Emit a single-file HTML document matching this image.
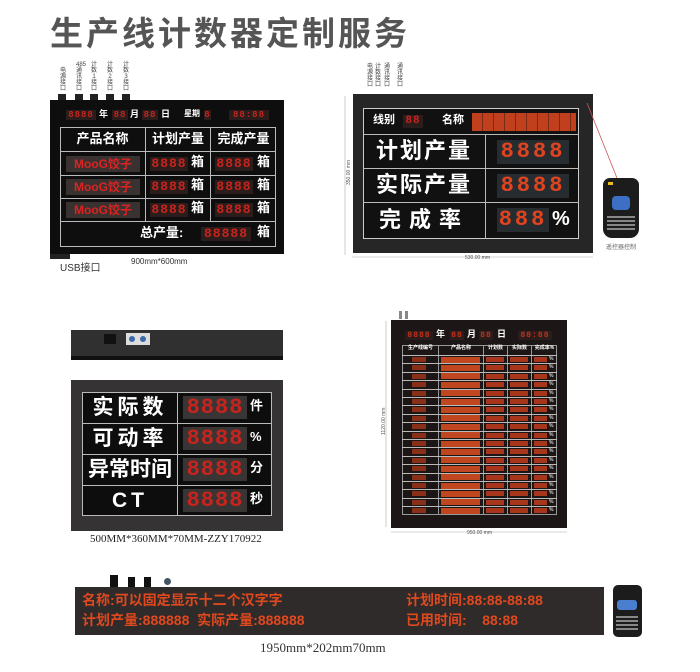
<!DOCTYPE html>
<html><head><meta charset="utf-8"><style>
body{margin:0;width:700px;height:672px;background:#fff;position:relative;overflow:hidden;font-family:"Liberation Sans","Noto Sans CJK SC",sans-serif}
.a{position:absolute;box-sizing:border-box}
.d{color:#c8231c;font-family:"Liberation Mono",monospace;font-weight:bold;background:#2a1d1b;letter-spacing:1px;text-align:center;white-space:nowrap;overflow:hidden}
.w{color:#fff;font-weight:bold;text-align:center;white-space:nowrap;line-height:1.15}
.ln{background:#bbb}
.t{font-size:6px;color:#444;line-height:6px;width:6px;text-align:center}
</style></head><body>
<div class="a" style="left:50px;top:7px;font-size:33px;font-weight:bold;color:#555;letter-spacing:3px">生产线计数器定制服务</div>

<!-- Panel 1 -->
<div class="a t" style="left:60px;top:68px">电源接口</div>
<div class="a t" style="left:76px;top:62px">485通讯接口</div>
<div class="a t" style="left:91px;top:62px">计数1接口</div>
<div class="a t" style="left:107px;top:62px">计数2接口</div>
<div class="a t" style="left:123px;top:62px">计数3接口</div>
<div class="a" style="left:58px;top:94px;width:8px;height:7px;background:#222"></div>
<div class="a" style="left:75px;top:94px;width:8px;height:7px;background:#222"></div>
<div class="a" style="left:90px;top:94px;width:8px;height:7px;background:#222"></div>
<div class="a" style="left:106px;top:94px;width:8px;height:7px;background:#222"></div>
<div class="a" style="left:122px;top:94px;width:8px;height:7px;background:#222"></div>
<div class="a" style="left:50px;top:100px;width:234px;height:154px;background:#0e0e0e"></div>
<div class="a" style="left:50px;top:254px;width:20px;height:5px;background:#222"></div>
<div class="a d" style="left:66px;top:110px;width:30px;height:10px;font-size:9px;line-height:10px">8888</div>
<div class="a w" style="left:99px;top:109px;font-size:9px">年</div>
<div class="a d" style="left:112px;top:110px;width:16px;height:10px;font-size:9px;line-height:10px">88</div>
<div class="a w" style="left:130px;top:109px;font-size:9px">月</div>
<div class="a d" style="left:142px;top:110px;width:16px;height:10px;font-size:9px;line-height:10px">88</div>
<div class="a w" style="left:161px;top:109px;font-size:9px">日</div>
<div class="a w" style="left:184px;top:109px;font-size:8px">星期</div>
<div class="a d" style="left:204px;top:110px;width:7px;height:10px;font-size:9px;line-height:10px">8</div>
<div class="a d" style="left:229px;top:110px;width:40px;height:10px;font-size:9px;line-height:10px">88:88</div>
<div class="a" style="left:60px;top:127px;width:216px;height:120px;border:1px solid #bbb"></div>
<div class="a ln" style="left:60px;top:151px;width:216px;height:1px"></div>
<div class="a ln" style="left:60px;top:175px;width:216px;height:1px"></div>
<div class="a ln" style="left:60px;top:198px;width:216px;height:1px"></div>
<div class="a ln" style="left:60px;top:221px;width:216px;height:1px"></div>
<div class="a ln" style="left:145px;top:127px;width:1px;height:94px"></div>
<div class="a ln" style="left:210px;top:127px;width:1px;height:94px"></div>
<div class="a w" style="left:60px;top:132px;width:85px;font-size:13px">产品名称</div>
<div class="a w" style="left:146px;top:132px;width:64px;font-size:13px">计划产量</div>
<div class="a w" style="left:211px;top:132px;width:65px;font-size:13px">完成产量</div>
<div id="p1"></div>
<div class="a w" style="left:140px;top:226px;font-size:13px">总产量:</div>
<div class="a d" style="left:201px;top:227px;width:50px;height:14px;font-size:13px;line-height:14px">88888</div>
<div class="a w" style="left:257px;top:225px;font-size:13px">箱</div>
<div class="a" style="left:60px;top:259px;font-size:10px;color:#333">USB接口</div>
<div class="a" style="left:131px;top:257px;font-size:8px;color:#333">900mm*600mm</div>

<!-- Panel 2 -->
<div class="a t" style="left:367px;top:64px">电源接口</div>
<div class="a t" style="left:375px;top:64px">计数接口</div>
<div class="a t" style="left:384px;top:64px">通讯接口</div>
<div class="a t" style="left:397px;top:64px">通讯接口</div>
<div class="a" style="left:353px;top:94px;width:240px;height:159px;background:#262626"></div>
<div class="a" style="left:363px;top:108px;width:216px;height:131px;background:#111;border:1px solid #ccc"></div>
<div class="a ln" style="left:363px;top:134px;width:216px;height:1px"></div>
<div class="a ln" style="left:363px;top:168px;width:216px;height:1px"></div>
<div class="a ln" style="left:363px;top:202px;width:216px;height:1px"></div>
<div class="a ln" style="left:485px;top:134px;width:1px;height:105px"></div>
<div class="a w" style="left:373px;top:114px;font-size:11px">线别</div>
<div class="a d" style="left:403px;top:115px;width:20px;height:13px;font-size:11px;line-height:13px">88</div>
<div class="a w" style="left:442px;top:114px;font-size:11px">名称</div>
<div class="a" style="left:472px;top:113px;width:104px;height:18px;background:repeating-linear-gradient(90deg,#c0401e 0 10px,#7a2a15 10px 11px)"></div>
<div class="a w" style="left:366px;top:138px;width:116px;font-size:22px;letter-spacing:2px;line-height:26px">计划产量</div>
<div class="a w" style="left:366px;top:172px;width:116px;font-size:22px;letter-spacing:2px;line-height:26px">实际产量</div>
<div class="a w" style="left:366px;top:207px;width:116px;font-size:22px;letter-spacing:8px;line-height:26px">完成率</div>
<div class="a d" style="left:497px;top:140px;width:72px;height:24px;font-size:22px;line-height:24px;color:#e2431f;background:#262c30;letter-spacing:3px">8888</div>
<div class="a d" style="left:497px;top:174px;width:72px;height:24px;font-size:22px;line-height:24px;color:#e2431f;background:#262c30;letter-spacing:3px">8888</div>
<div class="a d" style="left:497px;top:208px;width:52px;height:24px;font-size:22px;line-height:24px;color:#e2431f;background:#262c30;letter-spacing:3px">888</div>
<div class="a w" style="left:552px;top:208px;font-size:20px">%</div>
<svg class="a" style="left:340px;top:90px" width="320" height="180">
<line x1="247" y1="13" x2="277" y2="88" stroke="#c55" stroke-width="0.8"/>
<line x1="5" y1="6" x2="5" y2="165" stroke="#aaa" stroke-width="0.6"/>
<line x1="12" y1="167" x2="253" y2="167" stroke="#aaa" stroke-width="0.6"/>
<text x="125" y="169" font-size="5" fill="#555" font-family="Liberation Sans">530.00 mm</text>
<text x="10" y="95" font-size="5" fill="#555" font-family="Liberation Sans" transform="rotate(-90 10 95)">350.00 mm</text>
<text x="266" y="159" font-size="6" fill="#666" font-family="Noto Sans CJK SC">遥控器控制</text>
</svg>
<div class="a" style="left:603px;top:178px;width:36px;height:60px;background:#1c1c1c;border-radius:7px 7px 9px 9px"></div>
<div class="a" style="left:612px;top:196px;width:18px;height:14px;background:#3d6fc4;border-radius:4px"></div>
<div class="a" style="left:608px;top:182px;width:5px;height:3px;background:#e8c020"></div>
<div class="a" style="left:607px;top:214px;width:28px;height:18px;background:repeating-linear-gradient(0deg,#1c1c1c 0 2px,#888 2px 4px)"></div>

<!-- Panel 3 -->
<div class="a" style="left:71px;top:330px;width:212px;height:30px;background:#303030;border-bottom:4px solid #111"></div>
<div class="a" style="left:104px;top:334px;width:12px;height:10px;background:#111"></div>
<div class="a" style="left:126px;top:333px;width:24px;height:12px;background:#ddd"></div>
<div class="a" style="left:129px;top:336px;width:6px;height:6px;background:#3a6aa8;border-radius:50%"></div>
<div class="a" style="left:140px;top:336px;width:6px;height:6px;background:#3a6aa8;border-radius:50%"></div>
<div class="a" style="left:71px;top:380px;width:212px;height:151px;background:#353333"></div>
<div class="a" style="left:82px;top:392px;width:190px;height:124px;background:#0d0d0d;border:1px solid #bbb"></div>
<div class="a ln" style="left:82px;top:423px;width:190px;height:1px"></div>
<div class="a ln" style="left:82px;top:454px;width:190px;height:1px"></div>
<div class="a ln" style="left:82px;top:485px;width:190px;height:1px"></div>
<div class="a ln" style="left:177px;top:392px;width:1px;height:124px"></div>
<div class="a w" style="left:84px;top:396px;width:92px;font-size:21px;letter-spacing:4px;line-height:24px">实际数</div>
<div class="a w" style="left:84px;top:427px;width:92px;font-size:21px;letter-spacing:4px;line-height:24px">可动率</div>
<div class="a w" style="left:84px;top:458px;width:92px;font-size:21px;line-height:24px">异常时间</div>
<div class="a w" style="left:84px;top:489px;width:92px;font-size:21px;letter-spacing:4px;line-height:24px">CT</div>
<div id="p3"></div>
<div class="a" style="left:90px;top:533px;font-size:11px;color:#222;font-family:'Liberation Serif',serif">500MM*360MM*70MM-ZZY170922</div>

<!-- Panel 4 -->
<div class="a" style="left:391px;top:320px;width:176px;height:208px;background:#1c1716"></div>
<div class="a d" style="left:405px;top:331px;width:28px;height:9px;font-size:8px;line-height:9px;color:#c0301c">8888</div>
<div class="a w" style="left:436px;top:329px;font-size:9px">年</div>
<div class="a d" style="left:450px;top:331px;width:14px;height:9px;font-size:8px;line-height:9px;color:#c0301c">88</div>
<div class="a w" style="left:467px;top:329px;font-size:9px">月</div>
<div class="a d" style="left:479px;top:331px;width:14px;height:9px;font-size:8px;line-height:9px;color:#c0301c">88</div>
<div class="a w" style="left:497px;top:329px;font-size:9px">日</div>
<div class="a d" style="left:518px;top:331px;width:34px;height:9px;font-size:8px;line-height:9px;color:#c0301c">88:88</div>
<div id="p4"></div>
<svg class="a" style="left:370px;top:300px" width="210" height="250">
<line x1="16" y1="21" x2="16" y2="227" stroke="#aaa" stroke-width="0.6"/>
<line x1="21" y1="232" x2="197" y2="232" stroke="#aaa" stroke-width="0.6"/>
<text x="97" y="234" font-size="5" fill="#555" font-family="Liberation Sans">950.00 mm</text>
<text x="15" y="135" font-size="5" fill="#555" font-family="Liberation Sans" transform="rotate(-90 15 135)">1120.00 mm</text>
<rect x="29" y="11" width="3" height="8" fill="#888"/><rect x="35" y="11" width="3" height="8" fill="#888"/>
</svg>

<!-- Panel 5 -->
<div class="a" style="left:110px;top:575px;width:8px;height:12px;background:#111"></div>
<div class="a" style="left:128px;top:577px;width:7px;height:10px;background:#111"></div>
<div class="a" style="left:144px;top:577px;width:7px;height:10px;background:#111"></div>
<div class="a" style="left:164px;top:578px;width:7px;height:7px;background:#456;border-radius:50%"></div>
<div class="a" style="left:75px;top:587px;width:529px;height:48px;background:#2f2b2a"></div>
<div class="a" style="left:82px;top:590px;font-size:14px;font-weight:bold;color:#e0481e;white-space:nowrap">名称:可以固定显示十二个汉字字</div>
<div class="a" style="left:406px;top:590px;font-size:14px;font-weight:bold;color:#e0481e;white-space:nowrap">计划时间:88:88-88:88</div>
<div class="a" style="left:82px;top:610px;font-size:14px;font-weight:bold;color:#e0481e;white-space:nowrap">计划产量:888888 &nbsp;实际产量:888888</div>
<div class="a" style="left:406px;top:610px;font-size:14px;font-weight:bold;color:#e0481e;white-space:nowrap">已用时间: &nbsp; &nbsp;88:88</div>
<div class="a" style="left:613px;top:585px;width:29px;height:52px;background:#1c1c1c;border-radius:5px"></div>
<div class="a" style="left:617px;top:600px;width:20px;height:10px;background:#4a7fd0;border-radius:3px"></div>
<div class="a" style="left:616px;top:614px;width:22px;height:18px;background:repeating-linear-gradient(0deg,#1c1c1c 0 2px,#888 2px 4px)"></div>
<div class="a" style="left:260px;top:640px;font-size:13px;color:#333;font-family:'Liberation Serif',serif">1950mm*202mm70mm</div>

<script>
var h='';
[152,175,198].forEach(function(y){
h+='<div class="a" style="left:66px;top:'+(y+4)+'px;width:74px;height:16px;background:#3a3230;color:#d22;font-weight:bold;font-size:12px;text-align:center;line-height:16px">MooG饺子</div>';
h+='<div class="a d" style="left:150px;top:'+(y+5)+'px;width:38px;height:14px;font-size:13px;line-height:14px">8888</div><div class="a w" style="left:191px;top:'+(y+3)+'px;font-size:13px">箱</div>';
h+='<div class="a d" style="left:215px;top:'+(y+5)+'px;width:38px;height:14px;font-size:13px;line-height:14px">8888</div><div class="a w" style="left:257px;top:'+(y+3)+'px;font-size:13px">箱</div>';
});
document.getElementById('p1').innerHTML=h;
h='';var u=['件','%','分','秒'];
[392,423,454,485].forEach(function(y,i){
h+='<div class="a d" style="left:183px;top:'+(y+4)+'px;width:64px;height:23px;font-size:22px;line-height:23px;color:#c8231c;background:#3a3535">8888</div><div class="a w" style="left:250px;top:'+(y+7)+'px;font-size:13px">'+u[i]+'</div>';
});
document.getElementById('p3').innerHTML=h;
h='<div class="a" style="left:402px;top:345px;width:155px;height:170px;border:1px solid #999"></div>';
var hd=[[402,36,'生产线编号'],[438,45,'产品名称'],[483,24,'计划数'],[507,24,'实际数'],[531,26,'完成率%']];
hd.forEach(function(c){h+='<div class="a w" style="left:'+c[0]+'px;top:346px;width:'+c[1]+'px;font-size:5px;border-left:1px solid #999;height:169px">'+c[2]+'</div>';});
for(var i=0;i<19;i++){var y=355+i*8.4;
h+='<div class="a ln" style="left:402px;top:'+y+'px;width:155px;height:1px"></div>';
h+='<div class="a" style="left:412px;top:'+(y+2)+'px;width:14px;height:5px;background:#8a2f1a"></div>';
h+='<div class="a" style="left:441px;top:'+(y+1.5)+'px;width:39px;height:6px;background:#c0461f"></div>';
h+='<div class="a" style="left:486px;top:'+(y+2)+'px;width:18px;height:5px;background:#a8361b"></div>';
h+='<div class="a" style="left:510px;top:'+(y+2)+'px;width:18px;height:5px;background:#a8361b"></div>';
h+='<div class="a" style="left:534px;top:'+(y+2)+'px;width:13px;height:5px;background:#a8361b"></div>';
h+='<div class="a" style="left:549px;top:'+(y+1)+'px;font-size:5px;color:#fff">%</div>';}
document.getElementById('p4').innerHTML=h;
</script>
</body></html>
